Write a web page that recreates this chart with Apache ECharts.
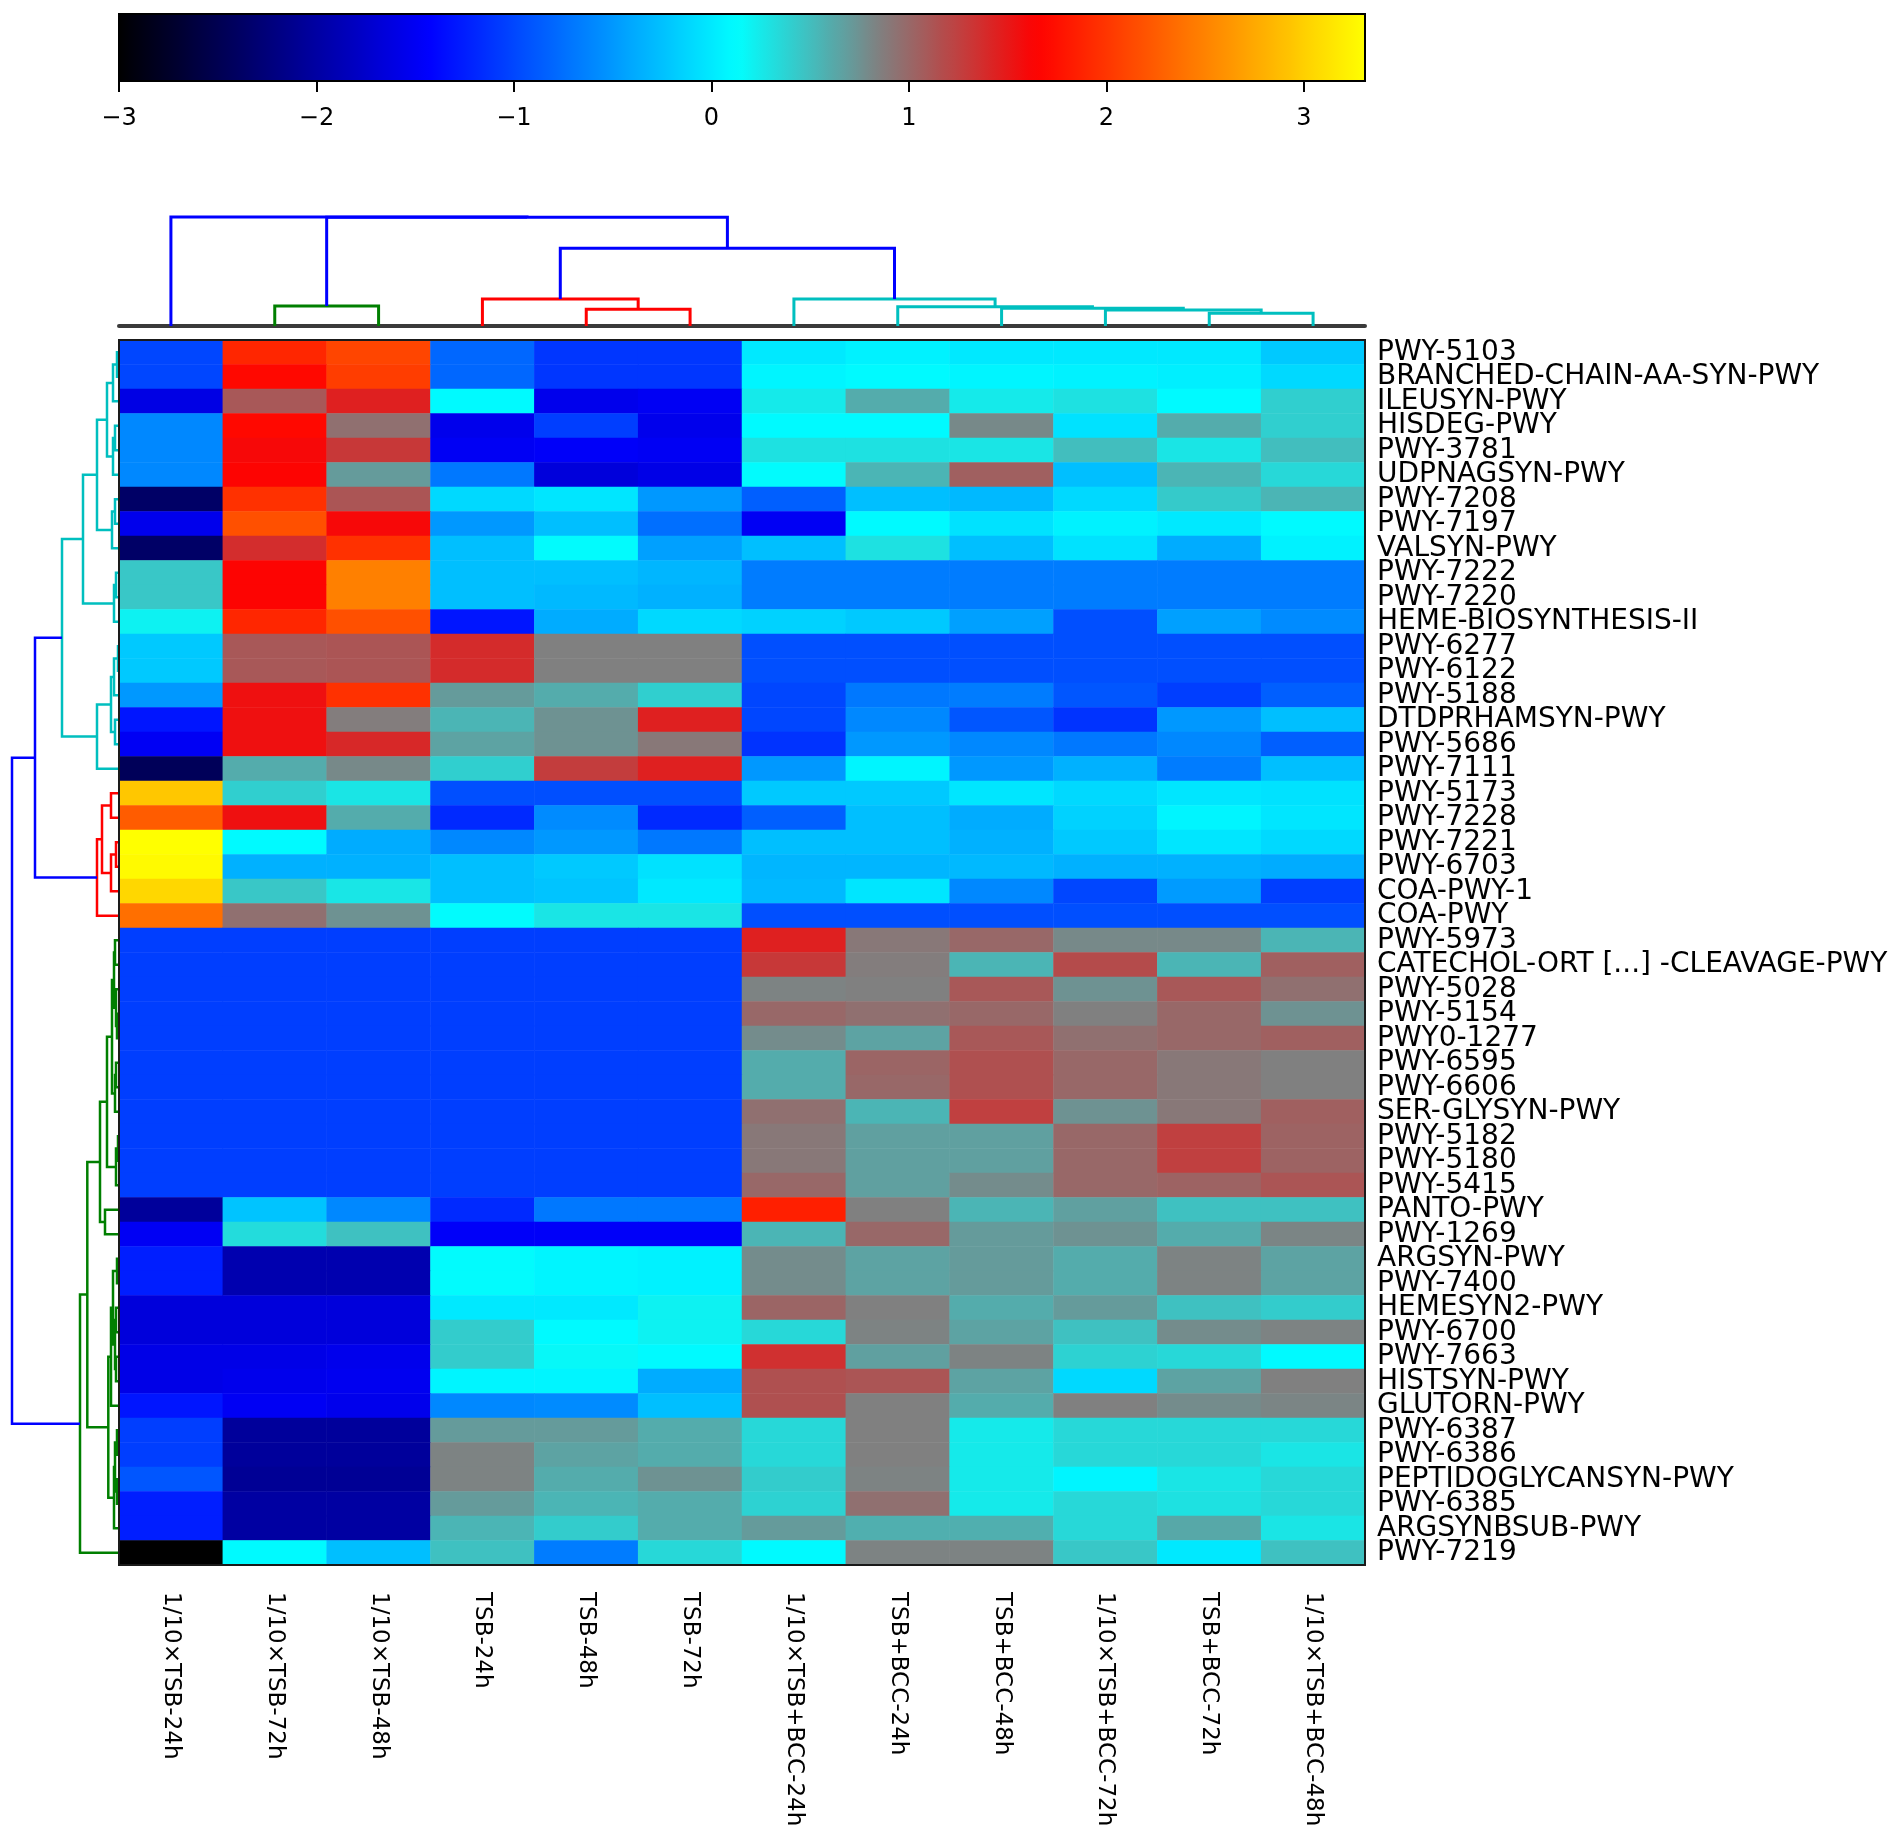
<!DOCTYPE html>
<html>
<head>
<meta charset="utf-8">
<script src="https://cdn.jsdelivr.net/npm/echarts@6/dist/echarts.min.js"></script>
<style>
  html, body { margin: 0; padding: 0; background: #fff; }
  #chart { width: 1902px; height: 1843px; }
</style>
</head>
<body>
<div id="chart"></div>
<script>
// columns (samples), in dendrogram order
const colNames = ['1/10×TSB-24h', '1/10×TSB-72h', '1/10×TSB-48h', 'TSB-24h', 'TSB-48h', 'TSB-72h',
  '1/10×TSB+BCC-24h', 'TSB+BCC-24h', 'TSB+BCC-48h', '1/10×TSB+BCC-72h', 'TSB+BCC-72h', '1/10×TSB+BCC-48h'];

// rows (pathways), top to bottom
const rowNames = ['PWY-5103', 'BRANCHED-CHAIN-AA-SYN-PWY', 'ILEUSYN-PWY', 'HISDEG-PWY', 'PWY-3781',
  'UDPNAGSYN-PWY', 'PWY-7208', 'PWY-7197', 'VALSYN-PWY', 'PWY-7222', 'PWY-7220', 'HEME-BIOSYNTHESIS-II',
  'PWY-6277', 'PWY-6122', 'PWY-5188', 'DTDPRHAMSYN-PWY', 'PWY-5686', 'PWY-7111', 'PWY-5173', 'PWY-7228',
  'PWY-7221', 'PWY-6703', 'COA-PWY-1', 'COA-PWY', 'PWY-5973', 'CATECHOL-ORT [...] -CLEAVAGE-PWY',
  'PWY-5028', 'PWY-5154', 'PWY0-1277', 'PWY-6595', 'PWY-6606', 'SER-GLYSYN-PWY', 'PWY-5182', 'PWY-5180',
  'PWY-5415', 'PANTO-PWY', 'PWY-1269', 'ARGSYN-PWY', 'PWY-7400', 'HEMESYN2-PWY', 'PWY-6700', 'PWY-7663',
  'HISTSYN-PWY', 'GLUTORN-PWY', 'PWY-6387', 'PWY-6386', 'PEPTIDOGLYCANSYN-PWY', 'PWY-6385',
  'ARGSYNBSUB-PWY', 'PWY-7219'];

// z-scores, one array per row, columns in colNames order
const zRows = [
  [-1.0, 1.9, 2.1, -0.8, -1.1, -1.1, 0.0, 0.05, 0.0, 0.0, 0.0, -0.2],
  [-1.0, 1.7, 2.05, -0.8, -1.1, -1.1, 0.07, 0.1, 0.07, 0.05, 0.03, -0.1],
  [-1.6, 1.1, 1.45, 0.1, -1.55, -1.5, 0.25, 0.6, 0.25, 0.3, 0.1, 0.4],
  [-0.6, 1.7, 0.95, -1.55, -1.05, -1.55, 0.1, 0.1, 0.8, -0.05, 0.6, 0.4],
  [-0.6, 1.6, 1.3, -1.5, -1.47, -1.5, 0.3, 0.3, 0.28, 0.5, 0.28, 0.5],
  [-0.6, 1.65, 0.7, -0.7, -1.65, -1.58, 0.13, 0.55, 1.05, -0.26, 0.55, 0.35],
  [-2.37, 1.97, 1.12, -0.1, -0.02, -0.5, -0.85, -0.26, -0.3, -0.1, 0.43, 0.55],
  [-1.55, 2.17, 1.6, -0.5, -0.26, -0.75, -1.5, 0.1, -0.05, 0.05, 0.0, 0.1],
  [-2.37, 1.37, 1.97, -0.26, 0.13, -0.45, -0.26, 0.3, -0.26, -0.05, -0.38, 0.05],
  [0.45, 1.65, 2.48, -0.26, -0.26, -0.32, -0.67, -0.67, -0.67, -0.67, -0.67, -0.67],
  [0.45, 1.65, 2.48, -0.26, -0.3, -0.35, -0.67, -0.67, -0.67, -0.67, -0.67, -0.67],
  [0.2, 1.9, 2.17, -1.3, -0.38, -0.1, -0.15, -0.2, -0.45, -0.95, -0.45, -0.58],
  [-0.2, 1.1, 1.12, 1.38, 0.85, 0.85, -0.95, -0.95, -0.95, -0.95, -0.95, -0.95],
  [-0.2, 1.1, 1.12, 1.38, 0.85, 0.85, -0.95, -0.95, -0.95, -0.95, -0.95, -0.95],
  [-0.5, 1.55, 1.97, 0.7, 0.6, 0.4, -1.0, -0.7, -0.67, -0.9, -1.05, -0.85],
  [-1.3, 1.55, 0.87, 0.55, 0.75, 1.45, -1.0, -0.6, -0.9, -1.12, -0.5, -0.26],
  [-1.5, 1.55, 1.4, 0.65, 0.75, 0.9, -1.12, -0.5, -0.6, -0.7, -0.6, -0.85],
  [-2.45, 0.6, 0.8, 0.4, 1.27, 1.45, -0.5, 0.07, -0.5, -0.35, -0.67, -0.26],
  [2.95, 0.4, 0.28, -0.95, -0.95, -0.95, -0.2, -0.2, -0.02, -0.1, -0.02, -0.05],
  [2.25, 1.55, 0.6, -1.18, -0.58, -1.18, -0.85, -0.26, -0.38, -0.15, 0.07, -0.02],
  [3.31, 0.1, -0.38, -0.6, -0.5, -0.7, -0.26, -0.26, -0.35, -0.2, -0.02, -0.1],
  [3.28, -0.35, -0.35, -0.26, -0.2, -0.05, -0.32, -0.32, -0.3, -0.35, -0.35, -0.38],
  [3.05, 0.45, 0.27, -0.26, -0.23, 0.0, -0.3, -0.02, -0.6, -1.0, -0.48, -1.05],
  [2.37, 0.95, 0.75, 0.13, 0.28, 0.28, -0.95, -0.95, -0.95, -0.95, -0.95, -0.95],
  [-1.05, -1.05, -1.05, -1.05, -1.05, -1.05, 1.45, 0.9, 1.0, 0.8, 0.8, 0.55],
  [-1.05, -1.05, -1.05, -1.05, -1.05, -1.05, 1.3, 0.87, 0.55, 1.18, 0.55, 1.05],
  [-1.05, -1.05, -1.05, -1.05, -1.05, -1.05, 0.83, 0.85, 1.1, 0.75, 1.1, 0.95],
  [-1.05, -1.05, -1.05, -1.05, -1.05, -1.05, 1.0, 0.95, 1.0, 0.85, 1.0, 0.75],
  [-1.05, -1.05, -1.05, -1.05, -1.05, -1.05, 0.78, 0.65, 1.1, 0.95, 1.0, 1.05],
  [-1.05, -1.05, -1.05, -1.05, -1.05, -1.05, 0.6, 1.02, 1.15, 1.0, 0.9, 0.85],
  [-1.05, -1.05, -1.05, -1.05, -1.05, -1.05, 0.6, 1.0, 1.15, 1.0, 0.9, 0.85],
  [-1.05, -1.05, -1.05, -1.05, -1.05, -1.05, 0.95, 0.55, 1.25, 0.75, 0.9, 1.05],
  [-1.05, -1.05, -1.05, -1.05, -1.05, -1.05, 0.9, 0.67, 0.67, 1.0, 1.25, 1.03],
  [-1.05, -1.05, -1.05, -1.05, -1.05, -1.05, 0.9, 0.67, 0.67, 1.0, 1.25, 1.03],
  [-1.05, -1.05, -1.05, -1.05, -1.05, -1.05, 1.0, 0.67, 0.78, 1.0, 1.03, 1.12],
  [-2.05, -0.23, -0.6, -1.18, -0.7, -0.7, 1.85, 0.85, 0.55, 0.67, 0.48, 0.48],
  [-1.5, 0.33, 0.48, -1.47, -1.47, -1.47, 0.55, 1.0, 0.7, 0.75, 0.6, 0.82],
  [-1.25, -1.92, -1.92, 0.13, 0.07, 0.05, 0.78, 0.65, 0.7, 0.6, 0.83, 0.65],
  [-1.25, -1.92, -1.92, 0.13, 0.07, 0.05, 0.78, 0.65, 0.7, 0.6, 0.83, 0.65],
  [-1.65, -1.65, -1.65, 0.0, 0.0, 0.2, 1.02, 0.85, 0.6, 0.7, 0.48, 0.42],
  [-1.65, -1.65, -1.65, 0.42, 0.1, 0.2, 0.35, 0.83, 0.65, 0.48, 0.78, 0.83],
  [-1.58, -1.58, -1.55, 0.42, 0.17, 0.1, 1.35, 0.67, 0.83, 0.38, 0.35, 0.1],
  [-1.58, -1.55, -1.52, 0.07, 0.07, -0.38, 1.15, 1.12, 0.65, -0.1, 0.65, 0.85],
  [-1.3, -1.5, -1.55, -0.6, -0.58, -0.26, 1.15, 0.85, 0.6, 0.85, 0.78, 0.82],
  [-1.05, -2.05, -2.05, 0.7, 0.7, 0.6, 0.35, 0.85, 0.25, 0.35, 0.35, 0.35],
  [-1.05, -2.05, -2.05, 0.83, 0.65, 0.6, 0.35, 0.85, 0.25, 0.35, 0.35, 0.28],
  [-0.9, -2.08, -2.08, 0.83, 0.6, 0.75, 0.42, 0.83, 0.25, 0.07, 0.28, 0.35],
  [-1.25, -2.0, -2.0, 0.7, 0.55, 0.6, 0.38, 0.95, 0.25, 0.35, 0.3, 0.35],
  [-1.25, -2.0, -2.0, 0.55, 0.42, 0.6, 0.7, 0.58, 0.58, 0.35, 0.62, 0.28],
  [-3.0, 0.1, -0.26, 0.48, -0.67, 0.35, 0.1, 0.83, 0.83, 0.45, 0.0, 0.48]
];

// column dendrogram: [left, right, height]; leaves are column indices
const colTree = [0, [[1, 2, 60], [[3, [4, 5, 50], 81], [6, [7, [8, [9, [10, 11, 38], 48], 53], 58], 81], 233], 326], 327];

// row dendrogram, three clusters joined at the top; leaves are row indices
const rowTreeCyan = [
  [[[[[0, 1, 2], 2, 6], [[3, 4, 4], 5, 6], 12], [[6, 7, 4], 8, 7], 22], [[9, 10, 3], 11, 5], 36],
  [[[[12, 13, 1], 14, 5], [15, 16, 4], 8], 17, 22],
  57
];
const rowTreeRed = [[[18, 19, 8], [[20, 21, 3], 22, 8], 17], 23, 22];
const rowTreeGreen = [
  [
    [[[[[24, 25, 4], [26, [27, 28, 2], 3], 5], [[29, 30, 3], 31, 4], 7], [[32, 33, 1], 34, 3], 12], [35, 36, 14], 19],
    [[[[37, 38, 2], [[39, 40, 3], [41, 42, 3], 4], 6], 43, 8], [[[44, 45, 2], [46, 47, 2], 4], 48, 5], 10.7],
    31.7
  ],
  49,
  39
];
const rowTree = [[rowTreeCyan, rowTreeRed, 84], rowTreeGreen, 107];

// colour bar
const zMin = -3, zMax = 3.31;
const colorTicks = [-3, -2, -1, 0, 1, 2, 3];
const cmapStops = [[-3, [0, 0, 0]], [-1.43, [0, 0, 255]], [0.13, [0, 255, 255]],
  [0.85, [128, 128, 128]], [1.65, [255, 0, 0]], [3.31, [255, 255, 0]]];

const FONT = 'DejaVu Sans';

function cmap(v) {
  for (let i = 1; i < cmapStops.length; i++) {
    const [v0, c0] = cmapStops[i - 1], [v1, c1] = cmapStops[i];
    if (v <= v1 || i === cmapStops.length - 1) {
      const t = Math.max(0, Math.min(1, (v - v0) / (v1 - v0)));
      const c = c0.map((x, k) => Math.round(x + (c1[k] - x) * t));
      return 'rgb(' + c.join(',') + ')';
    }
  }
}
const rampColors = [];
for (let i = 0; i <= 120; i++) rampColors.push(cmap(zMin + (zMax - zMin) * i / 120));

// flatten a nested tree into U-shaped links (scipy style colouring)
function buildLinks(tree, threshold, clusterColors, aboveColor) {
  const links = [];
  let next = 0;
  function walk(node, color) {
    if (typeof node === 'number') return { pos: node + 0.5, h: 0 };
    const [a, b, h] = node;
    let c = color;
    if (!c && h < threshold) c = clusterColors[next++];
    const A = walk(a, c), B = walk(b, c);
    links.push({ pa: A.pos, ha: A.h, pb: B.pos, hb: B.h, h: h, color: c || aboveColor });
    return { pos: (A.pos + B.pos) / 2, h: h };
  }
  walk(tree, null);
  return links;
}

const colLinks = buildLinks(colTree, 200, ['#007f00', '#ff0000', '#00bfbf'], '#0000ff');
const rowLinks = buildLinks(rowTree, 70, ['#00bfbf', '#ff0000', '#007f00'], '#0000ff');

function dendroSeries(links, axisIdx, vertical, width) {
  return {
    type: 'custom',
    xAxisIndex: axisIdx,
    yAxisIndex: axisIdx,
    silent: true,
    clip: false,
    z: 3,
    data: links.map(l => [l.pa, l.h]),
    renderItem: function (params, api) {
      const l = links[params.dataIndex];
      const pt = vertical ? (p, h) => api.coord([p, h]) : (p, h) => api.coord([h, p]);
      return {
        type: 'polyline',
        shape: { points: [pt(l.pa, l.ha), pt(l.pa, l.h), pt(l.pb, l.h), pt(l.pb, l.hb)] },
        style: { stroke: l.color, lineWidth: width, fill: null, lineJoin: 'miter' }
      };
    }
  };
}

const heatData = [];
zRows.forEach((row, r) => row.forEach((v, c) => heatData.push([c, r, v])));

const myChart = echarts.init(document.getElementById('chart'), null, { renderer: 'canvas' });
const option = {
  backgroundColor: '#ffffff',
  animation: false,
  textStyle: { fontFamily: FONT },
  grid: [
    // heatmap
    { left: 119, top: 340, width: 1246, height: 1225, show: true, z: 10, outerBoundsMode: 'none',
      backgroundColor: 'transparent', borderColor: '#1a1a1a', borderWidth: 2 },
    // column dendrogram
    { left: 119, top: 217, width: 1246, height: 109, outerBoundsMode: 'none' },
    // row dendrogram
    { left: 12, top: 340, width: 107, height: 1225, outerBoundsMode: 'none' },
    // colour bar frame + ticks
    { left: 119, top: 14, width: 1246, height: 67, show: true, z: 10, outerBoundsMode: 'none',
      backgroundColor: 'transparent', borderColor: '#000', borderWidth: 2 }
  ],
  xAxis: [
    { gridIndex: 0, type: 'category', data: colNames, position: 'bottom',
      axisLine: { show: false }, axisTick: { show: false },
      axisLabel: { rotate: -90, margin: 27, fontSize: 23, color: '#000', interval: 0 } },
    { gridIndex: 1, type: 'value', min: 0, max: 12, position: 'bottom',
      axisLine: { show: true, lineStyle: { color: '#3a3a3a', width: 4 } },
      axisTick: { show: false }, axisLabel: { show: false }, splitLine: { show: false } },
    { gridIndex: 2, type: 'value', min: 0, max: 107, inverse: true, show: false },
    { gridIndex: 3, type: 'value', min: zMin, max: zMax, position: 'bottom', z: 12,
      axisLine: { show: true, lineStyle: { color: '#000', width: 2 } },
      axisTick: { show: true, inside: false, length: 11, customValues: colorTicks, lineStyle: { color: '#000', width: 2 } },
      axisLabel: { margin: 26, fontSize: 24, color: '#000', customValues: colorTicks,
        formatter: v => (v < 0 ? '\u2212' + Math.abs(v) : String(v)) },
      splitLine: { show: false } }
  ],
  yAxis: [
    { gridIndex: 0, type: 'category', data: rowNames, inverse: true, position: 'right',
      axisLine: { show: false }, axisTick: { show: false },
      axisLabel: { margin: 12, fontSize: 28, color: '#000', interval: 0, align: 'left' } },
    { gridIndex: 1, type: 'value', min: 0, max: 327, show: false },
    { gridIndex: 2, type: 'value', min: 0, max: 50, inverse: true, show: false },
    { gridIndex: 3, type: 'value', min: 0, max: 1, show: false }
  ],
  visualMap: {
    type: 'continuous',
    seriesIndex: 0,
    min: zMin,
    max: zMax,
    orient: 'horizontal',
    left: 119,
    top: 14,
    padding: 0,
    itemWidth: 67,
    itemHeight: 1246,
    calculable: false,
    hoverLink: false,
    inRange: { color: rampColors }
  },
  series: [
    { type: 'heatmap', xAxisIndex: 0, yAxisIndex: 0, data: heatData, silent: true,
      itemStyle: { borderWidth: 0 }, emphasis: { disabled: true } },
    dendroSeries(colLinks, 1, true, 3),
    dendroSeries(rowLinks, 2, false, 2.5)
  ]
};
myChart.setOption(option);
</script>
</body>
</html>
